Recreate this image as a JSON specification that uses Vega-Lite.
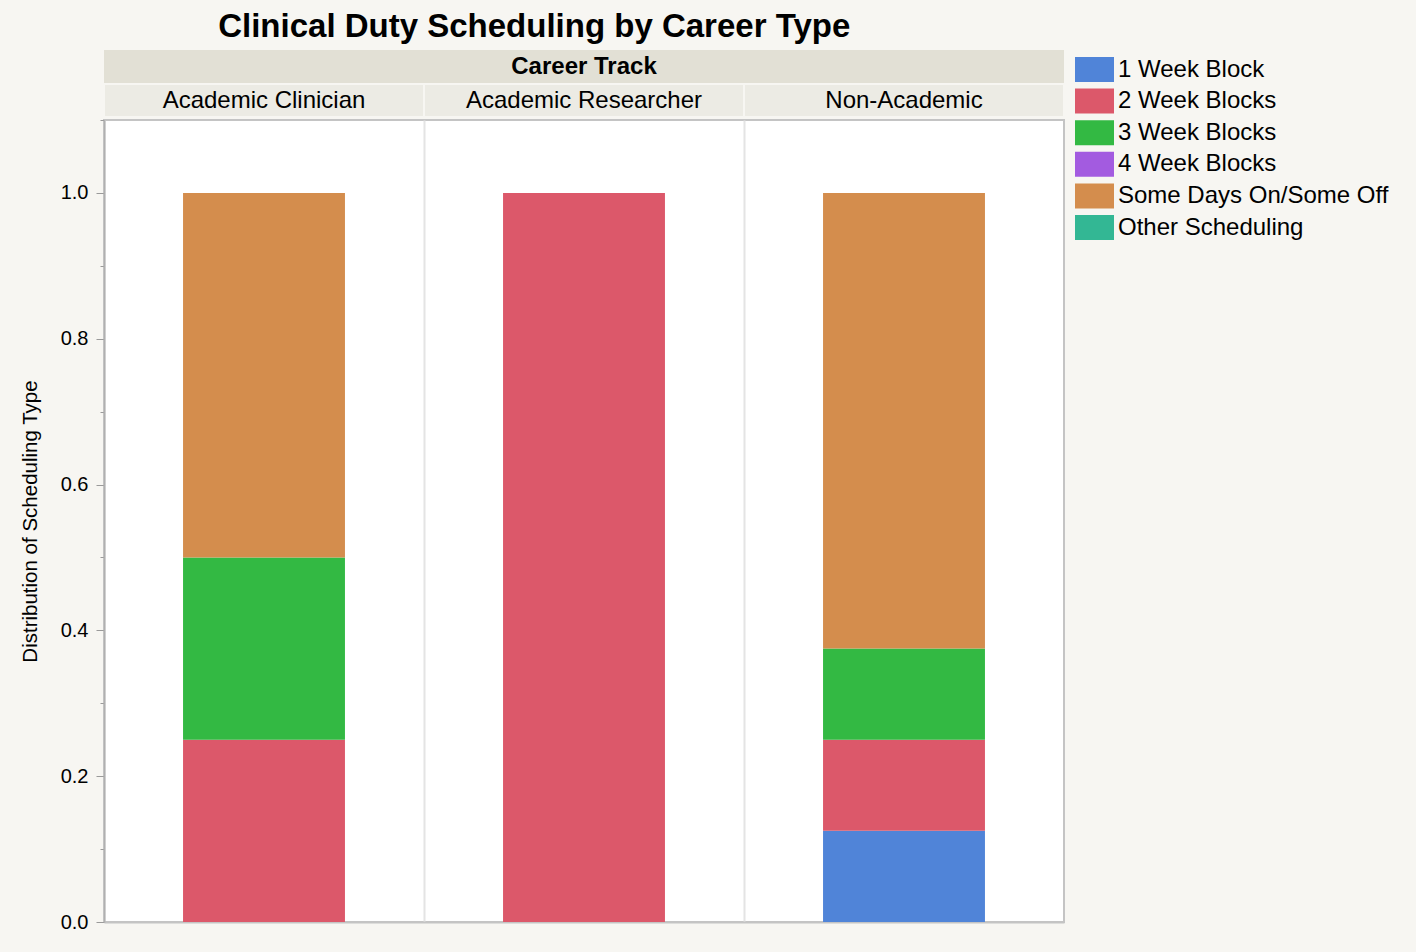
{
  "$schema": "https://vega.github.io/schema/vega-lite/v6.json",
  "background": "#f7f6f2",
  "padding": {"left": 19, "top": 11, "right": 25, "bottom": 34},
  "title": {
    "text": "Clinical Duty Scheduling by Career Type",
    "fontSize": 33,
    "fontWeight": "bold",
    "color": "black",
    "anchor": "start",
    "dx": 199,
    "offset": 6
  },
  "datasets": {
    "header": [{"label": "Career Track"}],
    "tracks": [
      {"track": "Academic Clinician"},
      {"track": "Academic Researcher"},
      {"track": "Non-Academic"}
    ],
    "sched": [
      {"track": "Academic Clinician", "type": "2 Week Blocks", "share": 0.25},
      {"track": "Academic Clinician", "type": "3 Week Blocks", "share": 0.25},
      {"track": "Academic Clinician", "type": "Some Days On/Some Off", "share": 0.5},
      {"track": "Academic Researcher", "type": "2 Week Blocks", "share": 1.0},
      {"track": "Non-Academic", "type": "1 Week Block", "share": 0.125},
      {"track": "Non-Academic", "type": "2 Week Blocks", "share": 0.125},
      {"track": "Non-Academic", "type": "3 Week Blocks", "share": 0.125},
      {"track": "Non-Academic", "type": "Some Days On/Some Off", "share": 0.625}
    ]
  },
  "spacing": 0,
  "vconcat": [
    {
      "data": {"name": "header"},
      "width": 960,
      "height": 33,
      "view": {"stroke": null},
      "layer": [
        {"mark": {"type": "rect", "fill": "#e2e0d5"}, "encoding": {}},
        {
          "mark": {"type": "text", "fontSize": 24, "fontWeight": "bold", "color": "black"},
          "encoding": {"text": {"field": "label"}}
        }
      ]
    },
    {
      "data": {"name": "tracks"},
      "width": 960,
      "height": 33,
      "view": {"stroke": null},
      "encoding": {
        "x": {
          "field": "track",
          "type": "nominal",
          "sort": ["Academic Clinician", "Academic Researcher", "Non-Academic"],
          "scale": {"paddingInner": 0, "paddingOuter": 0},
          "axis": null
        }
      },
      "layer": [
        {"mark": {"type": "rect", "fill": "#ecebe4", "stroke": "#f7f6f2", "strokeWidth": 2}},
        {
          "mark": {"type": "text", "fontSize": 24, "color": "black"},
          "encoding": {"text": {"field": "track"}}
        }
      ]
    },
    {
      "data": {"name": "sched"},
      "width": 960,
      "height": 802,
      "view": {"fill": "white", "stroke": "#c4c4c4", "strokeWidth": 2},
      "mark": {"type": "bar", "width": {"band": 0.506}},
      "encoding": {
        "x": {
          "field": "track",
          "type": "nominal",
          "sort": ["Academic Clinician", "Academic Researcher", "Non-Academic"],
          "scale": {"paddingInner": 0, "paddingOuter": 0},
          "axis": {
            "title": null,
            "labels": false,
            "ticks": false,
            "grid": true,
            "bandPosition": 0,
            "gridColor": "#e4e4e4",
            "gridWidth": 2,
            "domainColor": "#c4c4c4",
            "domainWidth": 2
          }
        },
        "y": {
          "field": "share",
          "type": "quantitative",
          "stack": "zero",
          "scale": {"domain": [0, 1.1], "nice": false},
          "axis": {
            "title": "Distribution of Scheduling Type",
            "values": [0, 0.1, 0.2, 0.3, 0.4, 0.5, 0.6, 0.7, 0.8, 0.9, 1.0, 1.1],
            "labelExpr": "(round(datum.value*10) % 2 == 0 && datum.value < 1.05) ? format(datum.value, '.1f') : ''",
            "tickSize": {"condition": {"test": "round(datum.value*10) % 2 == 0", "value": 8}, "value": 4},
            "tickColor": "#9a9a9a",
            "domainColor": "#b0b0b0",
            "domainWidth": 2,
            "grid": false,
            "labelFontSize": 20,
            "labelColor": "black",
            "labelPadding": 8,
            "titleFontSize": 20.5,
            "titleFontWeight": "normal",
            "titleColor": "black",
            "titlePadding": 20
          }
        },
        "color": {
          "field": "type",
          "type": "nominal",
          "scale": {
            "domain": ["1 Week Block", "2 Week Blocks", "3 Week Blocks", "4 Week Blocks", "Some Days On/Some Off", "Other Scheduling"],
            "range": ["#5084d8", "#dc586a", "#33b943", "#a35be0", "#d48d4d", "#33b794"]
          },
          "legend": {
            "title": null,
            "symbolType": "M-1.56,-1H1.56V1H-1.56Z",
            "symbolSize": 625,
            "symbolStrokeWidth": 0,
            "symbolOpacity": 1,
            "labelFontSize": 24,
            "labelColor": "black",
            "labelLimit": 400,
            "labelOffset": 11,
            "rowPadding": 6.6,
            "offset": 10,
            "padding": 7
          }
        },
        "order": {"field": "type", "sort": "ascending"}
      }
    }
  ],
  "config": {
    "font": "Liberation Sans"
  }
}
